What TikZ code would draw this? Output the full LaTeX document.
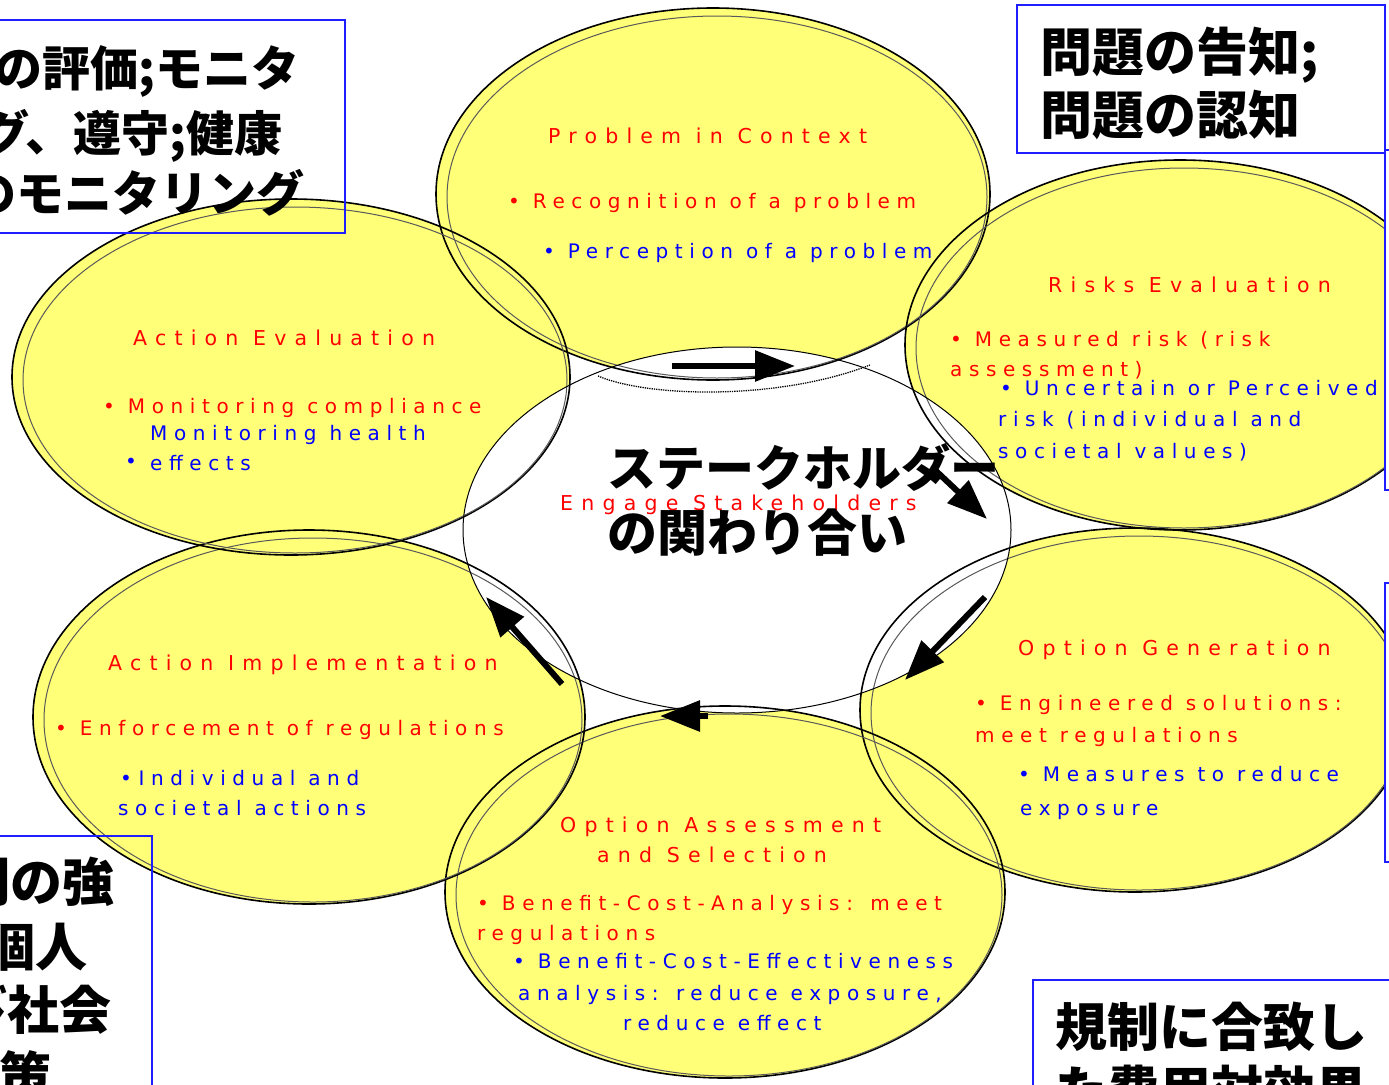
\documentclass[tikz,border=0pt]{standalone}
\usepackage{fontspec}
\setmainfont{DejaVu Sans}
\newfontfamily\etxt[LetterSpace=33]{DejaVu Sans}
\newfontfamily\ttxt[LetterSpace=40]{DejaVu Sans}
\newfontfamily\jp{Noto Sans CJK JP}
\usetikzlibrary{arrows.meta}
\definecolor{ylw}{RGB}{255,255,120}
\definecolor{rd}{RGB}{255,0,0}
\definecolor{bl}{RGB}{0,0,255}
\definecolor{bx}{RGB}{30,30,255}
\begin{document}
\begin{tikzpicture}[x=1pt,y=-1pt,
  lbl/.style={anchor=base west,inner sep=0pt,font=\etxt\fontsize{20}{24}\selectfont},
  ttl/.style={anchor=base west,inner sep=0pt,text=rd,font=\ttxt\fontsize{20.5}{24}\selectfont},
  rt/.style={lbl,text=rd},
  bt/.style={lbl,text=bl},
  jpl/.style={inner sep=0pt,font=\jp\bfseries\fontsize{#1}{#1}\selectfont},
  rim/.style={draw=black,line width=1.6pt},
  rimb/.style={draw=black!65,line width=1pt},
  bluebox/.style={draw=bx,line width=1.5pt},
  arr/.style={line width=6pt,-{Triangle[length=40pt,width=30pt]}}]
\useasboundingbox (0,0) rectangle (1389,1084);
\clip (0,0) rectangle (1389,1084);
% yellow bubbles
\foreach \cx/\cy/\rx/\ry in {713/194/277/186, 1180/345/275/185, 1135/710/275/182, 725/892/280/186, 309/717/276/187, 291/377/279/178}
  \fill[ylw] (\cx,\cy) ellipse [x radius=\rx pt, y radius=\ry pt];
% centre
\fill[white] (737,530) ellipse [x radius=274pt, y radius=183pt];
\foreach \cx/\cy/\rx/\ry in {713/194/277/186, 1180/345/275/185, 1135/710/275/182, 725/892/280/186, 309/717/276/187, 291/377/279/178}{
  \draw[rim] (\cx,\cy) ellipse [x radius=\rx pt, y radius=\ry pt];
  \pgfmathsetmacro\rxb{\rx-7}\pgfmathsetmacro\ryb{\ry-5}
  \draw[rimb] (\cx+4,\cy+3) ellipse [x radius=\rxb pt, y radius=\ryb pt];
}
\draw[black,line width=1pt] (737,530) ellipse [x radius=274pt, y radius=183pt];
\draw[densely dotted,line width=1.3pt] (598,376) .. controls (650,398) and (780,400) .. (870,365);
% boxes on the right edge
\draw[bluebox,fill=white] (1385,150) rectangle (1400,490);
\draw[bluebox,fill=white] (1385,583) rectangle (1400,862);
% blue framed boxes
\draw[bluebox] (1017,5) rectangle (1385,153);
\draw[bluebox] (-10,20) rectangle (345,233);
\draw[bluebox] (-10,836) rectangle (152,1100);
\draw[bluebox] (1033,980) rectangle (1400,1100);
% Problem in Context
\node[ttl] (t0) at (548,143) {Problem in Context};
\node[rt] (t1) at (508,208) {• Recognition of a problem};
\node[bt] (t2) at (543,258) {• Perception of a problem};
% Risks Evaluation
\node[ttl] (r0) at (1048,292) {Risks Evaluation};
\node[rt] (r1) at (950,346) {• Measured risk (risk};
\node[rt] (r2) at (950,376) {assessment)};
\node[bt] (r3) at (1000,395) {• Uncertain or Perceived};
\node[bt] (r4) at (998,426) {risk (individual and};
\node[bt] (r5) at (998,458) {societal values)};
% Action Evaluation
\node[ttl] (e0) at (133,345) {Action Evaluation};
\node[rt] (e1) at (103,413) {• Monitoring compliance};
\node[bt] (e2) at (150,440) {Monitoring health};
\node[bt] (e3) at (125,468) {•};
\node[bt] (e4) at (150,470) {effects};
% Option Generation
\node[ttl] (g0) at (1018,655) {Option Generation};
\node[rt] (g1) at (975,710) {• Engineered solutions:};
\node[rt] (g2) at (975,742) {meet regulations};
\node[bt] (g3) at (1018,781) {• Measures to reduce};
\node[bt] (g4) at (1020,815) {exposure};
% Action Implementation
\node[ttl] (i0) at (108,670) {Action Implementation};
\node[rt] (i1) at (55,735) {• Enforcement of regulations};
\node[bt] (i2) at (120,785) {•Individual and};
\node[bt] (i3) at (118,815) {societal actions};
% Option Assessment
\node[ttl] (s0) at (560,832) {Option Assessment};
\node[ttl] (s1) at (597,862) {and Selection};
\node[rt] (s2) at (477,910) {• Benefit-Cost-Analysis: meet};
\node[rt] (s3) at (477,940) {regulations};
\node[bt] (s4) at (513,968) {• Benefit-Cost-Effectiveness};
\node[bt] (s5) at (518,1000) {analysis: reduce exposure,};
\node[bt] (s6) at (623,1030) {reduce effect};
% centre
\node[ttl] (c0) at (560,510) {Engage Stakeholders};
\node[jpl=49,anchor=base west] (c1) at (607,486) {ステークホルダー};
\node[jpl=50,anchor=base west] (c2) at (607,551) {の関わり合い};
% Japanese boxes
\node[jpl=48,anchor=base east] (L1) at (300,86) {行動の評価;モニタ};
\node[jpl=48,anchor=base east] (L2) at (283,151) {リング、遵守;健康};
\node[jpl=48,anchor=base east] (L3) at (305,211) {影響のモニタリング};
\node[jpl=52,anchor=base west] (T1) at (1040,71) {問題の告知;};
\node[jpl=52,anchor=base west] (T2) at (1040,134) {問題の認知};
\node[jpl=52,anchor=base east] (B1) at (115,901) {規制の強};
\node[jpl=52,anchor=base east] (B2) at (88,966) {化;個人};
\node[jpl=52,anchor=base east] (B3) at (112,1029) {および社会};
\node[jpl=52,anchor=base east] (B4) at (52,1095) {の施策};
\node[jpl=52,anchor=base west] (R1) at (1055,1046) {規制に合致し};
\node[jpl=52,anchor=base west] (R2) at (1055,1109) {た費用対効果};
% arrows
\coordinate (a1s) at (672,366); \coordinate (a1e) at (795,366);
\coordinate (a2s) at (935,470); \coordinate (a2e) at (987,519);
\coordinate (a3s) at (985,597); \coordinate (a3e) at (905,680);
\coordinate (a4s) at (708,716); \coordinate (a4e) at (660,716);
\coordinate (a5s) at (562,684); \coordinate (a5e) at (486,597);
\draw[arr] (a1s) -- (a1e);
\draw[arr] (a2s) -- (a2e);
\draw[arr] (a3s) -- (a3e);
\draw[arr] (a4s) -- (a4e);
\draw[arr] (a5s) -- (a5e);
\end{tikzpicture}
\end{document}
